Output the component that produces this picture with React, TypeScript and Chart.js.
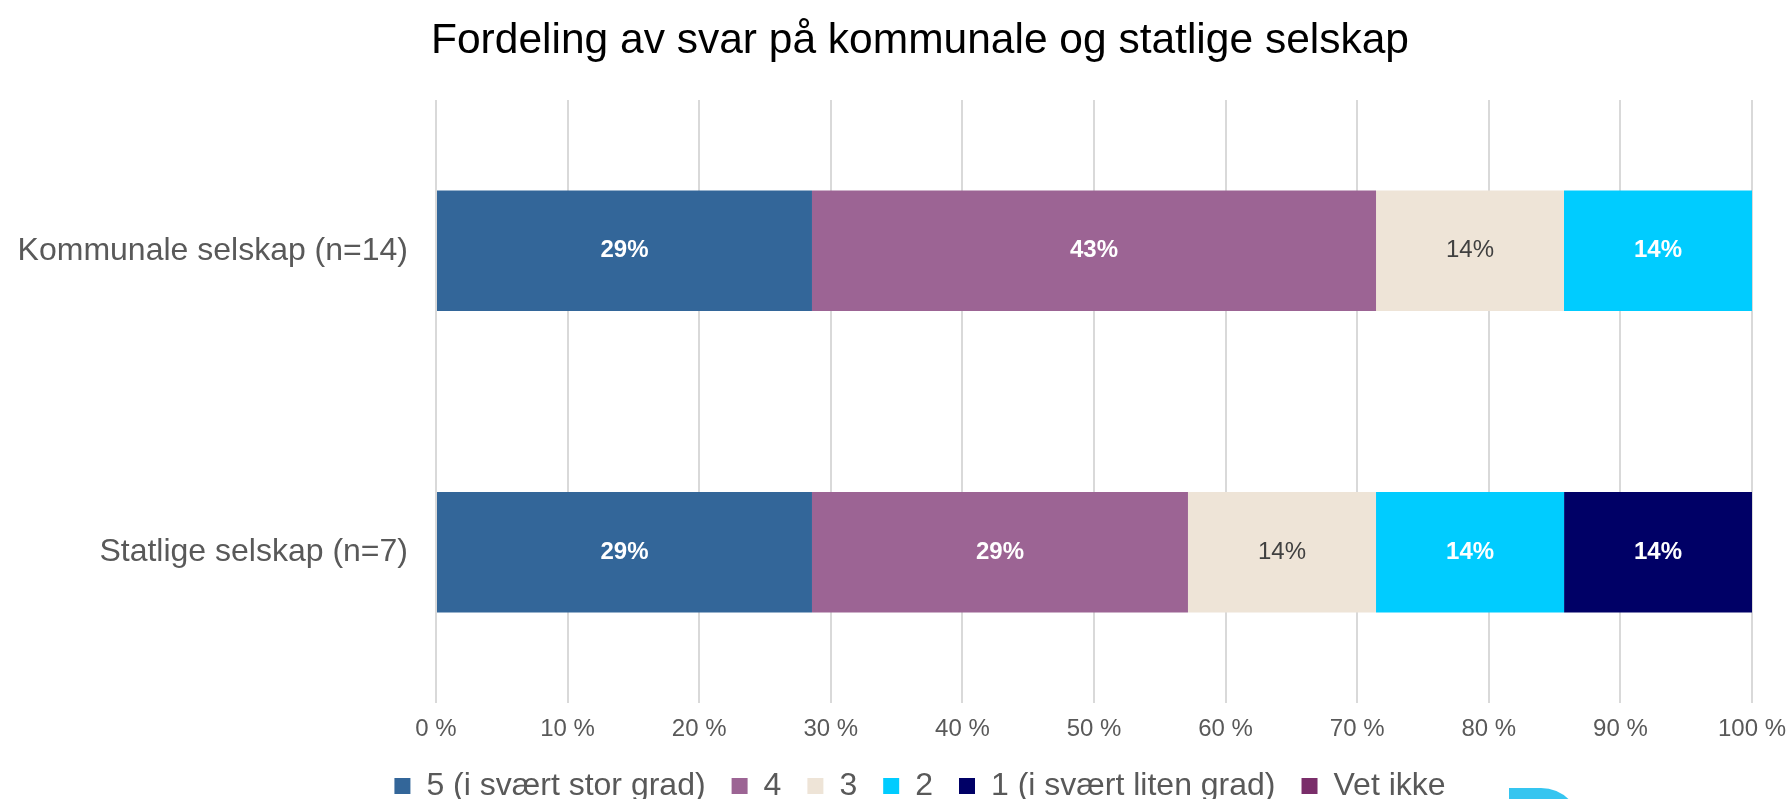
import React, { useEffect, useRef } from "react";
import { Chart, registerables } from "chart.js";

Chart.register(...registerables);

const categories = ["Kommunale selskap (n=14)", "Statlige selskap (n=7)"];
const seriesNames = ["5 (i svært stor grad)", "4", "3", "2", "1 (i svært liten grad)", "Vet ikke"];
const series5 = [28.57, 28.57];
const series4 = [42.86, 28.57];
const series3 = [14.28, 14.29];
const series2 = [14.29, 14.29];
const series1 = [0, 14.28];
const seriesVetIkke = [0, 0];
const xTicks = [0, 10, 20, 30, 40, 50, 60, 70, 80, 90, 100];

const seriesColors = ["#336699", "#9C6494", "#EEE4D7", "#00CCFF", "#000066", "#7A2E6A"];
const labelColors = ["#FFFFFF", "#FFFFFF", "#404040", "#FFFFFF", "#FFFFFF", "#FFFFFF"];
const labelWeights = ["bold", "bold", "normal", "bold", "bold", "bold"];

const FONT = "'Liberation Sans', Arial, sans-serif";

const valueLabels = {
  id: "valueLabels",
  afterDatasetsDraw(chart: any) {
    const ctx = chart.ctx;
    ctx.save();
    ctx.textAlign = "center";
    ctx.textBaseline = "middle";
    chart.data.datasets.forEach((ds: any, i: number) => {
      const meta = chart.getDatasetMeta(i);
      if (meta.hidden) return;
      meta.data.forEach((bar: any, j: number) => {
        const v = ds.data[j];
        if (!v) return;
        const p = bar.getProps(["x", "y", "base"], true);
        ctx.font = `${labelWeights[i]} 24px ${FONT}`;
        ctx.fillStyle = labelColors[i];
        ctx.fillText(`${Math.round(v)}%`, (p.x + p.base) / 2, p.y);
      });
    });
    ctx.restore();
  },
};

export default function App() {
  const ref = useRef<HTMLCanvasElement>(null);
  useEffect(() => {
    if (!ref.current) return;
    const allData = [series5, series4, series3, series2, series1, seriesVetIkke];
    const chart = new Chart(ref.current, {
      type: "bar",
      data: {
        labels: categories,
        datasets: seriesNames.map((name, i) => ({
          label: name,
          data: allData[i],
          backgroundColor: seriesColors[i],
          borderWidth: 0,
          categoryPercentage: 1,
          barPercentage: 0.4,
        })),
      },
      options: {
        animation: false,
        responsive: true,
        maintainAspectRatio: false,
        indexAxis: "y",
        layout: { padding: { left: 88, right: 50, top: 0, bottom: 0 } },
        scales: {
          x: {
            stacked: true,
            min: 0,
            max: 100,
            afterBuildTicks: (axis: any) => {
              axis.ticks = xTicks.map((v) => ({ value: v }));
            },
            afterFit: (axis: any) => {
              axis.height = 41;
              axis._computeLabelArea = () => undefined;
            },
            grid: { color: "#D9D9D9", lineWidth: 2, drawTicks: false },
            border: { display: false },
            ticks: {
              padding: 12,
              color: "#595959",
              font: { family: FONT, size: 24 },
              callback: (v: any) => `${v} %`,
            },
          },
          y: {
            stacked: true,
            afterFit: (axis: any) => {
              axis.width = 348;
              axis._computeLabelArea = () => undefined;
            },
            grid: { display: false, drawTicks: false },
            border: { display: false },
            ticks: {
              padding: 28,
              color: "#595959",
              font: { family: FONT, size: 32 },
            },
          },
        },
        plugins: {
          title: {
            display: true,
            text: "Fordeling av svar på kommunale og statlige selskap",
            color: "#000000",
            font: { family: FONT, size: 42.5, weight: "normal" },
            padding: { top: 16, bottom: 33 },
          },
          legend: {
            position: "bottom",
            labels: {
              color: "#595959",
              font: { family: FONT, size: 32 },
              boxWidth: 16,
              boxHeight: 16,
              padding: 26,
            },
          },
          tooltip: { enabled: false },
        },
      },
      plugins: [valueLabels],
    });
    return () => chart.destroy();
  }, []);

  return (
    <div style={{ position: "absolute", left: 0, top: 0, width: 1790, height: 799, overflow: "hidden", background: "#fff" }}>
      <div style={{ position: "absolute", left: 0, top: 0, width: 1802, height: 812 }}>
        <canvas ref={ref} />
      </div>
      <div
        style={{
          position: "absolute",
          left: 1509,
          top: 788,
          width: 72,
          height: 40,
          background: "#35C5F0",
          borderTopRightRadius: 40,
        }}
      />
    </div>
  );
}
